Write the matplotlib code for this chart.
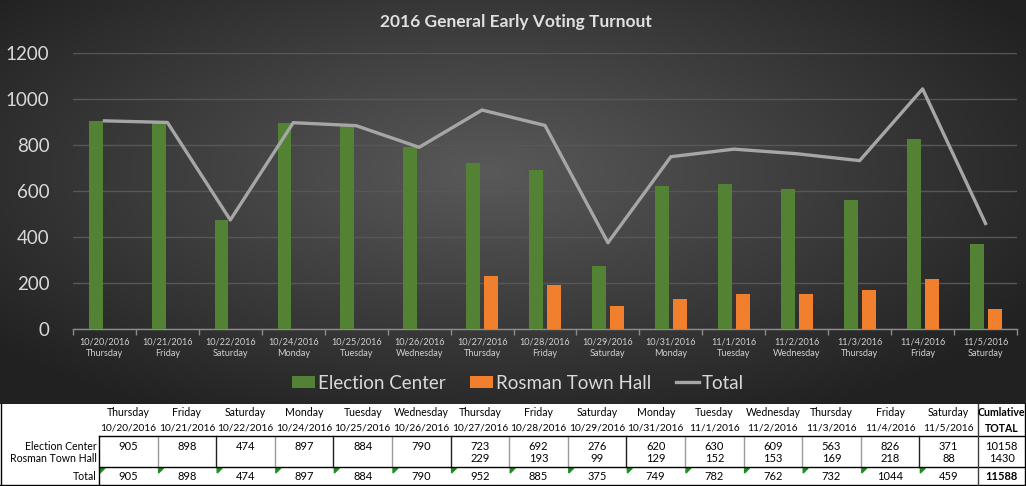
import matplotlib
matplotlib.use("Agg")
import matplotlib.pyplot as plt
import numpy as np
from matplotlib.lines import Line2D
from matplotlib.patches import Polygon

plt.rcParams['font.family'] = ['Lato', 'DejaVu Sans']

dates = ['10/20/2016', '10/21/2016', '10/22/2016', '10/24/2016', '10/25/2016',
         '10/26/2016', '10/27/2016', '10/28/2016', '10/29/2016', '10/31/2016',
         '11/1/2016', '11/2/2016', '11/3/2016', '11/4/2016', '11/5/2016']
days = ['Thursday', 'Friday', 'Saturday', 'Monday', 'Tuesday', 'Wednesday',
        'Thursday', 'Friday', 'Saturday', 'Monday', 'Tuesday', 'Wednesday',
        'Thursday', 'Friday', 'Saturday']
election_center = [905, 898, 474, 897, 884, 790, 723, 692, 276, 620, 630, 609, 563, 826, 371]
rosman = [0, 0, 0, 0, 0, 0, 229, 193, 99, 129, 152, 153, 169, 218, 88]
total = [905, 898, 474, 897, 884, 790, 952, 885, 375, 749, 782, 762, 732, 1044, 459]

W, H = 1026, 486
fig = plt.figure(figsize=(W / 100, H / 100), dpi=100)
fig.patch.set_facecolor('white')

def fx(px):
    return px / W

def fy(py):
    return 1 - py / H

# dark radial gradient background for chart area
chart_h = 404
bg = fig.add_axes([0, fy(chart_h), 1, chart_h / H])
gx, gy = np.meshgrid(np.linspace(-1, 1, 400), np.linspace(-1, 1, 200))
r = np.sqrt(((gx + 0.05) / 1.0) ** 2 + ((gy + 0.15) / 1.1) ** 2)
r = np.clip(r / 1.25, 0, 1)
c0, c1 = 0.35, 0.13
img = c0 + (c1 - c0) * r
bg.imshow(np.dstack([img, img, img]), aspect='auto', extent=[0, 1, 0, 1])
bg.set_axis_off()

ax = fig.add_axes([fx(73), fy(329), fx(1017 - 73), (329 - 53) / H])
ax.set_facecolor('none')

x = np.arange(len(dates))
w = 0.22
b1 = ax.bar(x - 0.14, election_center, w, color='#548235', zorder=3, label='Election Center')
b2 = ax.bar(x + 0.145, rosman, w, color='#f07f2e', zorder=3, label='Rosman Town Hall')
l1, = ax.plot(x, total, color='#a6a6a6', lw=2.4, zorder=4, label='Total')

ax.set_xlim(-0.5, len(dates) - 0.5)
ax.set_ylim(0, 1200)
ax.set_yticks(range(0, 1201, 200))
ax.grid(axis='y', color='#575757', lw=1, zorder=0)
for s in ['top', 'right', 'left']:
    ax.spines[s].set_visible(False)
ax.spines['bottom'].set_color('#8c8c8c')
ax.spines['bottom'].set_linewidth(1)

ax.set_xticks(x)
ax.set_xticklabels([f'{d}\n{dy}' for d, dy in zip(dates, days)])
ax.set_xticks(np.arange(-0.5, len(dates)), minor=True)
ax.tick_params(axis='x', which='major', length=0, pad=6, labelsize=6.6, labelcolor='#d0d0d0')
ax.tick_params(axis='x', which='minor', length=4, color='#8c8c8c', width=1)
ax.tick_params(axis='y', length=0, pad=17, labelsize=13.5, labelcolor='#d9d9d9')
for lbl in ax.get_xticklabels():
    lbl.set_linespacing(1.45)

fig.text(fx(516), fy(22), '2016 General Early Voting Turnout', ha='center', va='center',
         fontsize=12.5, fontweight='bold', color='#e0e0e0')

fig.legend([b1, b2, l1], ['Election Center', 'Rosman Town Hall', 'Total'],
           loc='center', bbox_to_anchor=(fx(518), fy(383)), ncol=3, frameon=False,
           fontsize=13.5, labelcolor='#d9d9d9', handlelength=1.25, handleheight=0.6,
           handletextpad=0.15, columnspacing=1.3)

# data table below the chart
tab = dict(transform=fig.transFigure, ha='center', va='center', color='black')
col0 = 99
colw = (978 - 99) / len(dates)
for i in range(len(dates)):
    cx = col0 + colw * (i + 0.5)
    fig.text(fx(cx), fy(412), days[i], fontsize=7.6, **tab)
    fig.text(fx(cx), fy(428), dates[i], fontsize=7.3, **tab)
    fig.text(fx(cx), fy(446), str(election_center[i]), fontsize=8, **tab)
    if rosman[i]:
        fig.text(fx(cx), fy(458), str(rosman[i]), fontsize=8, **tab)
    fig.text(fx(cx), fy(476), str(total[i]), fontsize=8, **tab)
    left = col0 + colw * i
    fig.patches.append(Polygon([[fx(left + 1), fy(468)], [fx(left + 6), fy(468)],
                                [fx(left + 1), fy(473)]], closed=True, color='#1e8c1e',
                               transform=fig.transFigure, figure=fig))
    if i > 0:
        edge = '#202020' if i in (2, 4, 6, 9, 14) else '#9a9a9a'
        fig.lines.append(Line2D([fx(left), fx(left)], [fy(436), fy(467)], color=edge,
                                lw=1, transform=fig.transFigure))

cum_x = (978 + 1025) / 2
fig.text(fx(cum_x), fy(412), 'Cumlative', fontsize=7.6, fontweight='bold', **tab)
fig.text(fx(cum_x), fy(428), 'TOTAL', fontsize=7.6, fontweight='bold', **tab)
fig.text(fx(cum_x), fy(446), str(sum(election_center)), fontsize=8, **tab)
fig.text(fx(cum_x), fy(458), str(sum(rosman)), fontsize=8, **tab)
fig.text(fx(cum_x), fy(476), str(sum(total)), fontsize=8, fontweight='bold', **tab)

rlab = dict(transform=fig.transFigure, ha='right', va='center', color='black', fontsize=7.6)
fig.text(fx(97), fy(446), 'Election Center', **rlab)
fig.text(fx(97), fy(458), 'Rosman Town Hall', **rlab)
fig.text(fx(97), fy(476), 'Total', **rlab)

def hline(x0, x1, yy, c='black'):
    fig.lines.append(Line2D([fx(x0), fx(x1)], [fy(yy), fy(yy)], color=c, lw=1,
                            transform=fig.transFigure))

def vline(xx, y0, y1, c='black'):
    fig.lines.append(Line2D([fx(xx), fx(xx)], [fy(y0), fy(y1)], color=c, lw=1,
                            transform=fig.transFigure))

hline(99, 1025, 436)
hline(99, 1025, 467)
hline(0, 1025, 484.5)
vline(99, 436, 484.5)
vline(978, 404, 484.5, '#404040')
vline(0.5, 404, 484.5)
vline(1025, 404, 484.5)

fig.savefig('out.png', dpi=100, facecolor=fig.get_facecolor())
